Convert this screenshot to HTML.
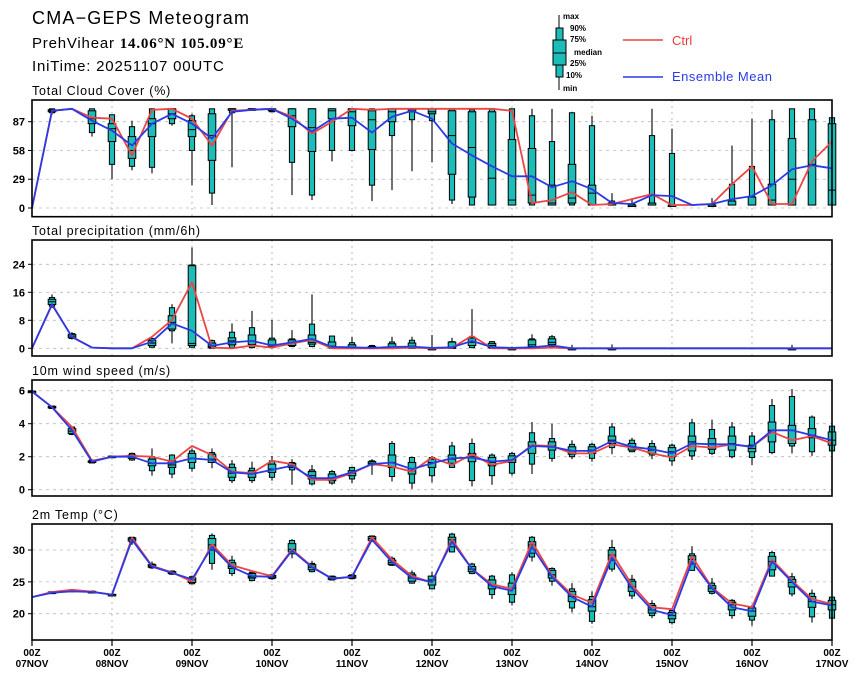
<!DOCTYPE html>
<html><head><meta charset="utf-8"><style>
html,body{margin:0;padding:0;background:#fff}
svg{display:block;font-family:"Liberation Sans",sans-serif}
</style></head><body>
<svg id="chart" width="860" height="678" viewBox="0 0 860 678" xmlns="http://www.w3.org/2000/svg">
<g>
<text x="32" y="24" font-size="18" letter-spacing="1.2">CMA−GEPS Meteogram</text>
<text x="32" y="48" font-size="15" letter-spacing="0.8">PrehVihear <tspan font-family="Liberation Serif,serif" font-weight="bold">14.06°N 105.09°E</tspan></text>
<text x="32" y="71" font-size="15" letter-spacing="0.8">IniTime: 20251107 00UTC</text>
</g>
<g font-size="8" font-weight="bold">
<line x1="559" y1="15" x2="559" y2="90" stroke="#000" stroke-width="1"/>
<rect x="556" y="28" width="7" height="49" fill="#1cbcb8" stroke="#000"/>
<rect x="553" y="40" width="13" height="25" fill="#1cbcb8" stroke="#000"/>
<line x1="553" y1="53" x2="566" y2="53" stroke="#000"/>
<text x="563" y="19">max</text><text x="570" y="31">90%</text><text x="570" y="42">75%</text>
<text x="574" y="55">median</text><text x="570" y="66">25%</text><text x="566" y="78">10%</text><text x="563" y="91">min</text>
<line x1="623" y1="40" x2="663" y2="40" stroke="#ee4444" stroke-width="1.5"/>
<text x="672" y="45" font-size="13" font-weight="normal" fill="#e83a3a">Ctrl</text>
<line x1="623" y1="77" x2="663" y2="77" stroke="#2a3ae8" stroke-width="1.5"/>
<text x="672" y="81" font-size="13" font-weight="normal" fill="#2a3ae8" letter-spacing="0.5">Ensemble Mean</text>
</g>
</svg>
<script>
// x axis: 41 six-hourly steps from 07NOV 00Z
const days = ["07NOV","08NOV","09NOV","10NOV","11NOV","12NOV","13NOV","14NOV","15NOV","16NOV","17NOV"];
// Cloud cover (%)
const cloudMin  = [0,94,100,72,29,38,35,83,23,3,41,99,97,13,8,47,57,7,18,37,46,4,3,3,3,3,3,3,3,3,3,3,3,3,3,3,3,3,3,3,3];
const cloudP10  = [0,96,100,76,44,42,41,85,58,15,96,100,97,46,13,58,58,23,73,89,88,8,3,3,3,3,3,3,3,3,3,3,3,3,3,3,3,3,3,3,3];
const cloudP25  = [0,97,100,85,67,50,72,90,72,48,99,100,98,82,57,90,83,59,87,97,95,34,11,3,3,5,3,5,3,3,3,3,3,3,3,3,3,3,3,3,3];
const cloudMed  = [0,98,100,90,80,58,85,95,79,73,100,100,99,93,81,98,97,89,97,99,97,73,61,30,8,13,5,10,15,3,3,3,3,3,3,3,3,8,29,44,18];
const cloudP75  = [0,99,100,98,85,72,90,100,88,95,100,100,100,100,100,100,100,98,100,100,100,98,97,97,69,60,23,44,23,5,3,5,3,3,3,7,11,24,70,89,85];
const cloudP90  = [0,100,100,100,94,82,100,100,93,100,100,100,100,100,100,100,100,100,100,100,100,100,99,100,100,93,67,96,83,7,4,73,55,3,4,24,42,89,100,100,91];
const cloudMax  = [0,100,100,100,94,88,100,100,95,100,100,100,100,100,100,100,100,100,100,100,100,100,100,100,100,100,100,97,93,15,10,100,80,3,10,63,90,99,100,100,91];
const cloudCtrl = [0,98,100,91,90,53,99,100,90,63,98,99,100,92,75,87,100,99,100,100,100,100,100,100,98,5,8,16,3,4,9,14,3,3,4,24,42,4,4,47,67];
const cloudMean = [0,98,100,88,78,63,85,95,85,70,97,99,100,90,77,90,91,76,92,98,90,65,53,42,32,32,21,27,19,5,4,13,12,3,4,9,12,23,39,43,40];
const cloudTicks = [0,29,58,87];
// Precipitation (mm/6h)
const prMin  = [0,11.5,2.5,0,0,0,0.2,1.4,0.2,0,0,0,0,0.4,0.3,0,0,0,0,0,0,0,0,0,0,0,0,0,0,0,0,0,0,0,0,0,0,0,0,0,0];
const prP10  = [0,12,2.8,0,0,0,0.3,5,0.3,0,0.2,0.2,0.2,0.5,0.5,0,0,0,0,0,0,0,0.2,0,0,0,0.5,0,0,0,0,0,0,0,0,0,0,0,0,0,0];
const prP25  = [0,12.5,3,0,0,0,0.8,5.5,0.8,0.2,1,1.1,0.5,0.8,1.2,0.2,0,0,0,0,0,0,0.8,0.2,0,0.5,1.1,0,0,0,0,0,0,0,0,0,0,0,0,0,0];
const prMed  = [0,13.3,3.5,0,0,0,1.5,7.4,1.4,0.6,2.1,2.1,1,1.4,1.7,0.6,0.3,0.1,0.4,0.6,0,0.2,1.7,0.8,0,1,1.7,0,0,0,0,0,0,0,0,0,0,0,0,0,0];
const prP75  = [0,14,4,0,0,0,2.3,9.3,23.6,1.5,3,3.8,2.4,2.4,3.8,1.8,1,0.5,1.3,1.5,0,1.8,2.9,1.4,0,2.4,2.7,0,0,0,0,0,0,0,0,0,0,0,0,0,0];
const prP90  = [0,14.5,4.2,0,0,0,2.8,11.6,23.8,2.2,4.6,5.9,2.9,2.7,6.9,3.5,1.6,0.8,1.8,2.3,0,1.9,3.3,1.9,0,2.7,3.3,0,0,0,0,0,0,0,0,0,0,0,0,0,0];
const prMax  = [0,15.4,4.6,0,0,0,3,12.6,28.8,2.5,7.1,10.7,8.1,5.2,15.4,3.5,3.2,1,3.3,3.3,3.8,3,11.2,2.1,0.5,4,3.8,1,0,1.1,0,0,0,0,0,0,0,0,1,0,0];
const prCtrl = [0,12.4,3.3,0.2,0,0,3.3,8.1,18.9,0.2,0,0.8,0.2,1.4,2.4,0,0,0,0,0.2,0,0.1,3.6,0,0,0,0.2,0,0,0,0,0,0,0,0,0,0,0,0,0,0];
const prMean = [0,12.6,3.2,0.2,0,0,1.9,7.1,5.0,0.7,1.7,2.1,0.8,1.7,2.7,0.4,0.3,0.1,0.4,0.5,0.1,0.3,2.1,0.3,0.1,0.3,0.8,0,0,0,0,0,0,0,0,0,0,0,0,0,0];
const prTicks = [0,8,16,24];
// 10m wind speed (m/s)
const wsMin  = [5.9,4.9,3.3,1.6,1.95,1.75,0.85,0.7,1.1,1.3,0.4,0.4,0.55,0.3,0.25,0.3,0.4,0.9,0.5,0.05,0.45,1.35,0.2,0.3,0.85,0.95,1.7,1.85,1.7,2.15,2.3,1.85,1.45,1.8,2.1,1.9,1.5,2.15,2.2,2.05,2.35];
const wsP10  = [5.9,4.92,3.35,1.62,1.96,1.8,1.15,0.95,1.3,1.65,0.55,0.55,0.75,1.2,0.35,0.4,0.65,1.5,0.8,0.4,0.85,1.35,0.55,0.85,1.0,1.55,1.9,2.0,1.9,2.55,2.3,2.1,1.75,2.05,2.2,2.0,1.95,2.25,2.65,2.3,2.35];
const wsP25  = [5.92,4.95,3.4,1.65,1.97,1.9,1.45,1.35,1.65,1.65,0.75,0.75,1.05,1.35,0.65,0.55,0.85,1.5,1.35,0.95,1.35,1.6,1.7,1.45,1.65,2.2,2.4,2.15,2.2,2.8,2.4,2.2,2.0,2.35,2.45,2.4,2.3,2.9,2.8,3.15,2.7];
const wsMed  = [5.95,5.0,3.55,1.7,2.0,2.0,1.6,1.5,1.9,1.85,1.0,0.95,1.25,1.45,0.85,0.65,1.0,1.6,1.65,1.15,1.65,1.85,2.0,1.65,1.8,2.65,2.65,2.35,2.4,3.0,2.6,2.4,2.3,2.9,2.8,2.8,2.5,3.6,3.6,3.3,3.0];
const wsP75  = [5.97,5.05,3.7,1.75,2.03,2.1,1.85,1.75,2.2,2.15,1.35,1.15,1.55,1.6,1.1,0.95,1.15,1.7,2.1,1.65,1.85,2.1,2.2,1.95,2.05,2.9,2.9,2.6,2.6,3.25,2.8,2.6,2.55,3.25,3.1,3.25,2.7,4.1,3.9,3.7,3.5];
const wsP90  = [5.98,5.07,3.8,1.8,2.04,2.2,2.0,2.1,2.35,2.25,1.55,1.3,1.75,1.65,1.2,1.1,1.35,1.75,2.8,1.95,1.95,2.65,2.8,2.1,2.2,3.45,3.1,2.75,2.75,3.8,3.0,2.8,2.7,4.05,3.65,3.8,3.25,5.1,5.65,4.4,3.85];
const wsMax  = [6.0,5.1,3.85,1.85,2.05,2.25,2.5,2.15,2.5,2.5,1.8,1.7,2.05,1.85,1.5,1.2,1.4,1.85,2.95,2.0,2.05,2.9,3.1,2.2,2.3,4.1,4.0,3.0,2.85,4.05,3.15,3.0,2.8,4.3,4.25,4.1,3.5,5.5,6.1,4.5,3.9];
const wsCtrl = [5.95,5.0,3.8,1.75,2.0,2.05,2.0,1.7,2.65,2.1,1.1,1.0,1.75,1.55,0.6,0.6,1.0,1.55,1.4,1.1,1.95,1.5,2.15,1.5,1.75,2.7,2.65,2.2,2.2,2.75,2.55,2.2,1.95,2.65,2.55,2.75,2.6,3.5,3.0,3.25,2.8];
const wsMean = [5.95,5.0,3.6,1.7,2.0,2.0,1.6,1.6,1.9,1.8,1.05,0.95,1.2,1.45,0.7,0.7,1.05,1.55,1.65,1.25,1.6,1.9,1.95,1.7,1.8,2.65,2.6,2.35,2.35,2.95,2.6,2.45,2.2,2.8,2.75,2.75,2.6,3.6,3.6,3.3,3.0];
const wsTicks = [0,2,4,6];
// 2m temperature (°C)
const tMin  = [22.6,23.1,23.4,23.2,22.9,30.8,27.0,26.1,24.6,26.9,25.9,25.1,25.3,28.7,26.5,25.2,25.4,31.3,27.5,24.7,23.8,29.6,26.2,22.3,21.3,28.2,24.4,20.2,18.4,26.6,22.3,19.3,18.3,26.8,23.0,19.2,18.1,25.9,22.7,18.6,19.2];
const tP10  = [22.6,23.15,23.45,23.25,22.95,31.2,27.2,26.2,24.7,27.9,26.3,25.2,25.5,29.4,26.6,25.3,25.5,31.4,27.6,24.8,23.9,29.7,26.3,23.0,21.8,28.9,25.1,20.9,18.8,27.0,22.8,19.7,18.6,26.8,23.2,19.7,19.0,25.9,23.1,19.5,19.3];
const tP25  = [22.6,23.2,23.5,23.3,22.97,31.4,27.3,26.3,24.9,30.0,27.1,25.6,25.6,29.7,26.9,25.4,25.6,31.5,27.7,25.1,24.5,30.5,26.6,23.9,23.0,29.5,25.6,21.9,20.4,28.4,23.5,20.1,19.2,27.8,23.5,20.6,19.6,26.9,24.2,21.0,20.6];
const tMed  = [22.6,23.3,23.6,23.4,23.0,31.7,27.5,26.4,25.3,30.8,27.4,25.8,25.8,30.1,27.3,25.6,25.8,31.8,28.0,25.6,25.3,31.6,27.0,24.5,24.0,30.8,26.1,22.7,21.1,29.2,24.2,20.6,19.7,28.5,24.0,21.4,20.4,28.2,24.9,21.9,21.4];
const tP75  = [22.6,23.4,23.7,23.5,23.03,31.9,27.7,26.6,25.6,31.8,28.0,26.3,26.0,31.0,27.7,25.8,26.0,32.1,28.4,26.1,25.9,32.0,27.4,25.3,24.8,31.3,26.8,23.5,22.2,30.0,25.1,21.3,20.2,29.1,24.4,21.8,20.9,29.0,25.4,22.7,22.1];
const tP90  = [22.6,23.45,23.75,23.55,23.05,32.0,27.8,26.7,25.8,32.3,28.4,26.5,26.1,31.5,27.9,25.9,26.1,32.2,28.7,26.4,25.9,32.5,27.8,25.9,26.1,32.0,27.1,23.9,22.7,30.4,25.4,21.6,20.5,29.4,24.8,22.1,21.1,29.6,25.8,23.2,22.6];
const tMax  = [22.6,23.5,23.8,23.6,23.1,32.0,28.2,26.8,26.0,32.6,29.1,26.8,26.2,31.7,28.3,26.0,26.2,32.3,29.0,26.8,26.6,32.7,28.0,26.1,26.5,32.2,27.3,24.8,23.5,31.6,26.1,22.1,20.9,30.6,25.6,22.3,21.4,29.9,26.4,23.8,22.7];
const tCtrl = [22.6,23.4,23.75,23.45,23.0,31.9,27.5,26.5,25.05,30.9,27.6,26.7,25.9,30.1,27.4,25.5,25.8,32.0,28.5,25.9,24.9,31.7,27.0,24.6,23.9,31.3,26.0,23.0,21.7,29.5,24.5,21.0,20.7,29.0,24.1,21.6,21.0,28.5,25.2,22.3,21.5];
const tMean = [22.6,23.3,23.5,23.4,23.0,31.6,27.4,26.4,25.4,30.5,27.3,25.9,25.8,29.9,27.3,25.5,25.8,31.6,28.1,25.6,25.0,31.3,27.0,24.3,23.6,30.5,25.8,22.6,21.1,28.8,24.0,20.6,19.8,28.2,24.0,21.0,20.4,28.2,25.0,21.9,21.3];
const tTicks = [20,25,30];

const NS = "http://www.w3.org/2000/svg";
const svg = document.getElementById("chart");
const X0 = 32, X1 = 832, DAYPX = (X1 - X0) / 10;
function xs(i){ return X0 + i * DAYPX / 4; }
function mk(tag, attrs, parent){
  const e = document.createElementNS(NS, tag);
  for (const k in attrs) e.setAttribute(k, attrs[k]);
  (parent || svg).appendChild(e);
  return e;
}
function panel(cfg){
  const g = mk("g", {});
  
  
  const ys = v => cfg.yA + (v - cfg.vA) * (cfg.yB - cfg.yA) / (cfg.vB - cfg.vA);
  const t = mk("text", {x: X0, y: cfg.top - 5, "font-size": 12.5, "letter-spacing": "0.8"}, g);
  t.textContent = cfg.title;
  
  
  // grid
  cfg.ticks.forEach(v => {
    const y = ys(v);
    mk("line", {x1: X0, x2: X1, y1: y, y2: y, stroke: "#bbb", "stroke-width": 0.8, "stroke-dasharray": "3,4"}, g);
    mk("line", {x1: X0 - 4, x2: X0, y1: y, y2: y, stroke: "#000", "stroke-width": 1}, g);
    const lb = mk("text", {x: X0 - 7, y: y + 4, "font-size": 11, "font-weight": "bold", "text-anchor": "end"}, g);
    lb.textContent = v;
    
    
  });
  for (let d = 1; d < 10; d++){
    const x = X0 + d * DAYPX;
    mk("line", {x1: x, x2: x, y1: cfg.top, y2: cfg.bot, stroke: "#aaa", "stroke-width": 0.8, "stroke-dasharray": "2,4"}, g);
  }
  // boxes
  const lo = Math.min(cfg.vA, cfg.vB);
  for (let i = 0; i < cfg.mx.length; i++){
    if (cfg.mx[i] - cfg.mn[i] <= 0) continue;
    const x = xs(i);
    const bx = mk("g", {}, g);
    
    
    mk("line", {x1: x, x2: x, y1: ys(cfg.mx[i]), y2: ys(cfg.mn[i]), stroke: "#000", "stroke-width": 1.1}, bx);
    const y90 = ys(cfg.p90[i]), y10 = ys(cfg.p10[i]);
    mk("rect", {x: x - 2.6, y: y90, width: 5.2, height: Math.max(y10 - y90, 1.5), fill: "#1cbcb8", stroke: "#000", "stroke-width": 1}, bx);
    const y75 = ys(cfg.p75[i]), y25 = ys(cfg.p25[i]);
    mk("rect", {x: x - 3.8, y: y75, width: 7.6, height: Math.max(y25 - y75, 1.5), fill: "#1cbcb8", stroke: "#000", "stroke-width": 1}, bx);
    const ym = ys(cfg.med[i]);
    mk("line", {x1: x - 3.8, x2: x + 3.8, y1: ym, y2: ym, stroke: "#000", "stroke-width": 1}, bx);
  }
  // lines
  const pts = arr => arr.map((v, i) => xs(i).toFixed(1) + "," + ys(v).toFixed(1)).join(" ");
  const lc = mk("polyline", {points: pts(cfg.ctrl), fill: "none", stroke: "#ee4444", "stroke-width": 1.8, "stroke-linejoin": "round"}, g);
  
  
  const lm = mk("polyline", {points: pts(cfg.mean), fill: "none", stroke: "#2a3ae8", "stroke-width": 1.8, "stroke-linejoin": "round"}, g);
  
  
  mk("rect", {x: X0, y: cfg.top, width: X1 - X0, height: cfg.bot - cfg.top, fill: "none", stroke: "#000", "stroke-width": 1.6}, g);
}
panel({name:"cloud-cover-panel", title:"Total Cloud Cover (%)", top:100, bot:216.7, vA:0, yA:208, vB:87, yB:121.7, ticks:cloudTicks,
  mn:cloudMin,p10:cloudP10,p25:cloudP25,med:cloudMed,p75:cloudP75,p90:cloudP90,mx:cloudMax,ctrl:cloudCtrl,mean:cloudMean});
panel({name:"precipitation-panel", title:"Total precipitation (mm/6h)", top:240, bot:356, vA:0, yA:348.3, vB:24, yB:264.3, ticks:prTicks,
  mn:prMin,p10:prP10,p25:prP25,med:prMed,p75:prP75,p90:prP90,mx:prMax,ctrl:prCtrl,mean:prMean});
panel({name:"wind-speed-panel", title:"10m wind speed (m/s)", top:380, bot:496, vA:0, yA:489.7, vB:6, yB:390.7, ticks:wsTicks,
  mn:wsMin,p10:wsP10,p25:wsP25,med:wsMed,p75:wsP75,p90:wsP90,mx:wsMax,ctrl:wsCtrl,mean:wsMean});
panel({name:"temperature-panel", title:"2m Temp (°C)", top:524, bot:640, vA:20, yA:613.7, vB:30, yB:550, ticks:tTicks,
  mn:tMin,p10:tP10,p25:tP25,med:tMed,p75:tP75,p90:tP90,mx:tMax,ctrl:tCtrl,mean:tMean});
// x axis labels
days.forEach((d, k) => {
  const x = X0 + k * DAYPX;
  mk("line", {x1: x, x2: x, y1: 640, y2: 646, stroke: "#000", "stroke-width": 1.2});
  const a = mk("text", {x: x, y: 656, "font-size": 10, "font-weight": "bold", "text-anchor": "middle"});
  a.textContent = "00Z";
  
  
  const b = mk("text", {x: x, y: 667, "font-size": 10, "font-weight": "bold", "text-anchor": "middle"});
  b.textContent = d;
  
  
});
</script>
</body></html>
